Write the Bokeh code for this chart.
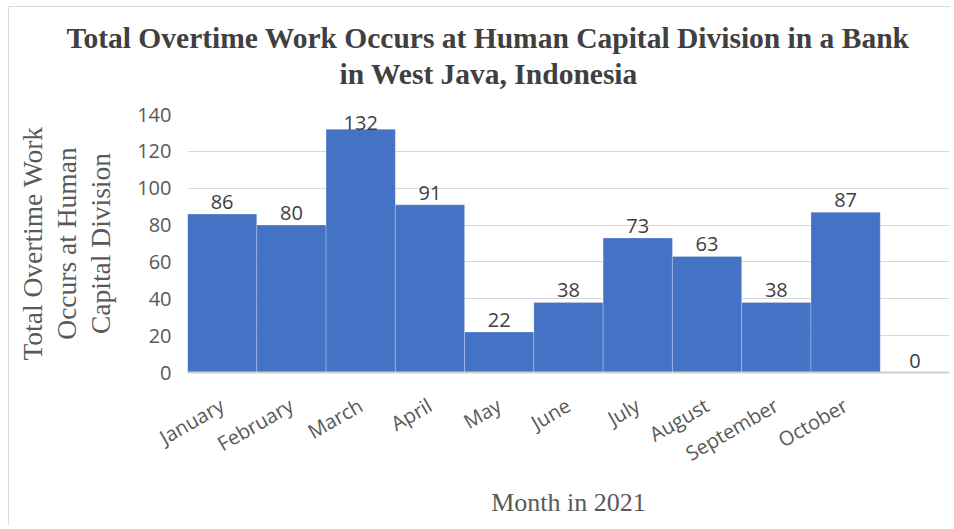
from bokeh.plotting import figure
from bokeh.models import ColumnDataSource, FixedTicker, Range1d, LabelSet, Title
from bokeh.core.properties import value
from bokeh.embed import file_html
from bokeh.resources import INLINE
import math

months = ["January", "February", "March", "April", "May", "June", "July",
          "August", "September", "October", ""]
overtime = [86, 80, 132, 91, 22, 38, 73, 63, 38, 87, 0]
title_lines = ["Total Overtime Work Occurs at Human Capital Division in a Bank",
               "in West Java, Indonesia"]
ylabel_lines = ["Total Overtime Work", "Occurs at Human", "Capital Division"]
xlabel = "Month in 2021"
y_ticks = [0, 20, 40, 60, 80, 100, 120, 140]

idx = list(range(len(months)))
label_y = [min(v, 129.0) for v in overtime]
src = ColumnDataSource(dict(x=idx, top=overtime, ly=label_y,
                            txt=[str(v) for v in overtime]))

frame_bg = ("linear-gradient(#d9d9d9,#d9d9d9) 8px 6px / 1px 100% no-repeat, "
            "linear-gradient(#d9d9d9,#d9d9d9) 8px 6px / 100% 1px no-repeat, white")

p = figure(width=950, height=525, output_backend="svg", toolbar_location=None,
           x_range=Range1d(-0.5, 10.5), y_range=Range1d(0, 140),
           min_border_left=187, min_border_right=1, min_border_top=114,
           min_border_bottom=153, styles={"background": frame_bg})
p.outline_line_color = None
p.background_fill_color = "white"
p.border_fill_color = None

p.vbar(x="x", top="top", width=1.0, source=src, fill_color="#4472C4",
       line_color="white", line_alpha=0.25, line_width=1)

labels = LabelSet(x="x", y="ly", text="txt", source=src, text_align="center",
                  text_baseline="bottom", y_offset=5, text_font=value("Open Sans"),
                  text_font_size=value("20px"), text_color=value("#404040"))
p.add_layout(labels)

# axes
p.xaxis.ticker = FixedTicker(ticks=idx[:-1])
p.xaxis.major_label_overrides = {i: m for i, m in zip(idx, months)}
p.xaxis.major_label_orientation = math.radians(30)
p.xaxis.major_tick_line_color = None
p.xaxis.minor_tick_line_color = None
p.xaxis.major_tick_out = 0
p.xaxis.major_tick_in = 0
p.xaxis.axis_line_color = "#d0d0d0"
p.xaxis.axis_line_width = 2
p.xaxis.major_label_text_font = "Open Sans"
p.xaxis.major_label_text_font_size = "20px"
p.xaxis.major_label_text_color = "#595959"
p.xaxis.major_label_standoff = 31
p.xaxis.axis_label = xlabel
p.xaxis.axis_label_text_font = "Liberation Serif"
p.xaxis.axis_label_text_font_style = "normal"
p.xaxis.axis_label_text_font_size = "26px"
p.xaxis.axis_label_text_color = "#595959"
p.xaxis.axis_label_standoff = 7

p.yaxis.ticker = FixedTicker(ticks=y_ticks)
p.yaxis.major_tick_line_color = None
p.yaxis.minor_tick_line_color = None
p.yaxis.major_tick_out = 0
p.yaxis.major_tick_in = 0
p.yaxis.axis_line_color = None
p.yaxis.major_label_text_font = "Open Sans"
p.yaxis.major_label_text_font_size = "20px"
p.yaxis.major_label_text_color = "#595959"
p.yaxis.major_label_standoff = 16
p.yaxis.axis_label = "\n".join(ylabel_lines)
p.yaxis.axis_label_text_font = "Liberation Serif"
p.yaxis.axis_label_text_font_style = "normal"
p.yaxis.axis_label_text_font_size = "27.5px"
p.yaxis.axis_label_text_color = "#595959"
p.yaxis.axis_label_text_line_height = 1.1
p.yaxis.axis_label_standoff = 18

p.xgrid.grid_line_color = None
p.ygrid.grid_line_color = "#d9d9d9"
p.ygrid.grid_line_width = 1

# title (two lines): the first added sits closest to the plot area
for t, off, so in [(title_lines[1], 152, 49), (title_lines[0], -121, -45)]:
    p.add_layout(Title(text=t, align="left", offset=off, standoff=so,
                       text_font="Liberation Serif", text_font_style="bold",
                       text_font_size="29.5px", text_color="#404040"), "above")

open("out.html", "w").write(file_html(p, INLINE))
